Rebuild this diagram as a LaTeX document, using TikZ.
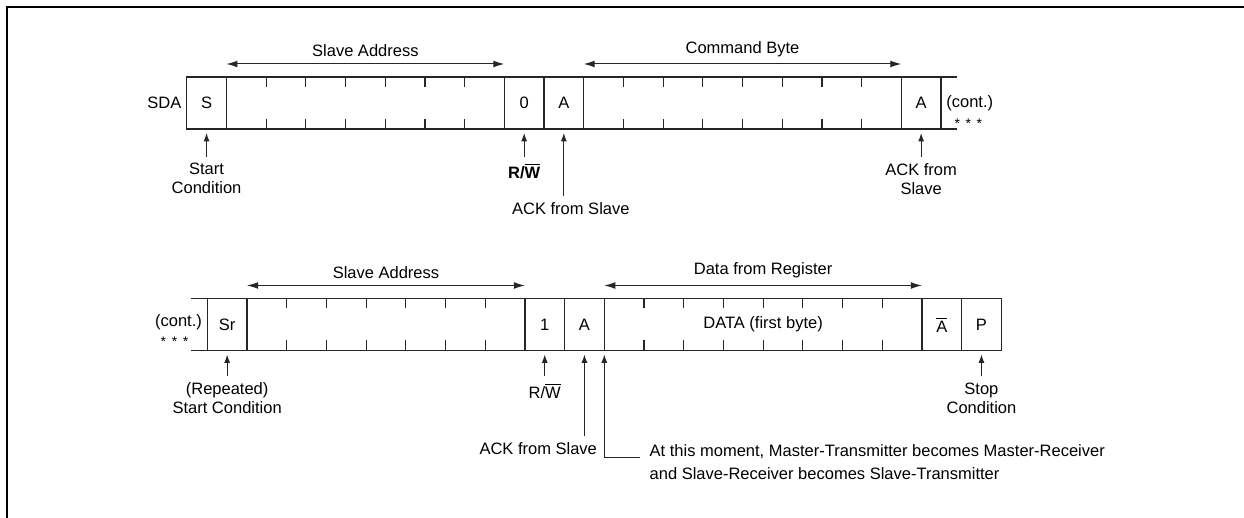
\documentclass[tikz,border=0pt]{standalone}
\usepackage{fontspec}
\setmainfont{Liberation Sans}
\usepackage{tikz}
\usetikzlibrary{arrows.meta,positioning}

\def\bw{19.85pt}
\tikzset{
  field/.style={draw=black!85, line width=0.6pt, minimum height=26pt, minimum width=\bw, inner sep=0pt, outer sep=0pt},
  lbl/.style={align=center, inner sep=3pt},
  span/.style={{Latex[length=5.5pt,width=3.4pt]}-{Latex[length=5.5pt,width=3.4pt]}, draw=black!85, line width=0.5pt},
  ptr/.style={-{Latex[length=4.2pt,width=3pt]}, draw=black!85, line width=0.5pt},
  tick/.style={draw=black!85, line width=0.6pt},
  stars/.style={inner sep=0pt, font=\fontsize{7}{7}\selectfont}
}

\begin{document}
\begin{tikzpicture}[x=0.5pt,y=-0.5pt,font=\fontsize{8.25}{9.5}\selectfont]
\useasboundingbox (0,0) rectangle (1244,518);
\draw[line width=1pt] (7,518) -- (7,7) -- (1244,7);

% write: slave address + command byte
\node[field, anchor=north west] (s) at (186.7,77) {S};
\node[field, right=0pt of s, minimum width=7*\bw] (addr) {};
\node[field, right=0pt of addr] (rw) {0};
\node[field, right=0pt of rw] (ack) {A};
\node[field, right=0pt of ack, minimum width=8*\bw] (cmd) {};
\node[field, right=0pt of cmd] (ackc) {A};
\draw[tick] (ackc.north east) -- ++(16,0) (ackc.south east) -- ++(16,0);
\foreach \i in {1,...,6}
  \draw[tick] ([xshift=\i*\bw]addr.north west) -- ++(0,10) ([xshift=\i*\bw]addr.south west) -- ++(0,-10);
\foreach \i in {1,...,7}
  \draw[tick] ([xshift=\i*\bw]cmd.north west) -- ++(0,10) ([xshift=\i*\bw]cmd.south west) -- ++(0,-10);
\node[left=0pt of s, inner sep=2.5pt] (sda) {SDA};
\node[right=0pt of ackc, inner sep=2.5pt] (cont1) {(cont.)};
\node[stars, below=1pt of cont1, xshift=-0.7pt] (dots1) {*\hspace{2.8pt}*\hspace{2.8pt}*};

\draw[span] ([yshift=6.5pt]addr.north west) -- ([yshift=6.5pt]addr.north east) node[midway, above] (taddr) {Slave Address};
\draw[span] ([yshift=6.5pt]cmd.north west) -- ([yshift=6.5pt]cmd.north east) node[midway, above] (tcmd) {Command Byte};

\node[lbl, below=14pt of s] (start) {Start\\Condition};
\node[lbl, below=14pt of rw] (rwl) {\bfseries R/$\overline{\mbox{W}}$};
\node[lbl, below=33.5pt of ack, xshift=3.5pt] (ackl) {ACK from Slave};
\node[lbl, below=14pt of ackc] (ackcl) {ACK from\\Slave};
\draw[ptr] (start) -- ([yshift=-2pt]s.south);
\draw[ptr] (rwl) -- ([yshift=-2pt]rw.south);
\draw[ptr] (ack |- ackl.north) -- ([yshift=-2pt]ack.south);
\draw[ptr] (ackcl) -- ([yshift=-2pt]ackc.south);

% read: repeated start + data
\node[field, anchor=north west] (sr) at (207.3,298.5) {Sr};
\node[field, right=0pt of sr, minimum width=7*\bw] (addrb) {};
\node[field, right=0pt of addrb] (rwb) {1};
\node[field, right=0pt of rwb] (ackb) {A};
\node[field, right=0pt of ackb, minimum width=8*\bw] (dat) {DATA (first byte)};
\node[field, right=0pt of dat] (nack) {$\overline{\mbox{A}}$};
\node[field, right=0pt of nack] (stp) {P};
\draw[tick] (sr.north west) -- ++(-16.6,0) (sr.south west) -- ++(-16.6,0);
\foreach \i in {1,...,6}
  \draw[tick] ([xshift=\i*\bw]addrb.north west) -- ++(0,10) ([xshift=\i*\bw]addrb.south west) -- ++(0,-10);
\foreach \i in {1,...,7}
  \draw[tick] ([xshift=\i*\bw]dat.north west) -- ++(0,10) ([xshift=\i*\bw]dat.south west) -- ++(0,-10);
\node[left=0pt of sr, inner sep=2.5pt, yshift=1pt] (cont2) {(cont.)};
\node[stars, below=0.5pt of cont2, xshift=-2pt] (dots2) {*\hspace{2.8pt}*\hspace{2.8pt}*};

\draw[span] ([yshift=6.5pt]addrb.north west) -- ([yshift=6.5pt]addrb.north east) node[midway, above] (taddrb) {Slave Address};
\draw[span] ([yshift=6.5pt]dat.north west) -- ([yshift=6.5pt]dat.north east) node[midway, above] (tdat) {Data from Register};

\node[lbl, below=13pt of sr] (rstart) {(Repeated)\\Start Condition};
\node[lbl, below=13pt of rwb] (rwlb) {R/$\overline{\mbox{W}}$};
\node[lbl, anchor=north east] (ackbl) at ([xshift=-0.5pt,yshift=-43pt]dat.south west) {ACK from Slave};
\node[lbl, anchor=north west, align=left, font=\fontsize{8.25}{11.5}\selectfont] (note) at ([xshift=19.5pt,yshift=-44pt]dat.south west)
  {At this moment, Master-Transmitter becomes Master-Receiver\\and Slave-Receiver becomes Slave-Transmitter};
\node[lbl, below=13pt of stp] (stop) {Stop\\Condition};
\draw[ptr] (rstart) -- ([yshift=-2pt]sr.south);
\draw[ptr] (rwlb) -- ([yshift=-2pt]rwb.south);
\draw[ptr] (ackb |- ackbl.north) -- ([yshift=-2pt]ackb.south);
\draw[ptr] ([xshift=-1.5pt,yshift=-9.5pt]note.north west) -| ([yshift=-2pt]dat.south west);
\draw[ptr] (stop) -- ([yshift=-2pt]stp.south);
\end{tikzpicture}
\end{document}
